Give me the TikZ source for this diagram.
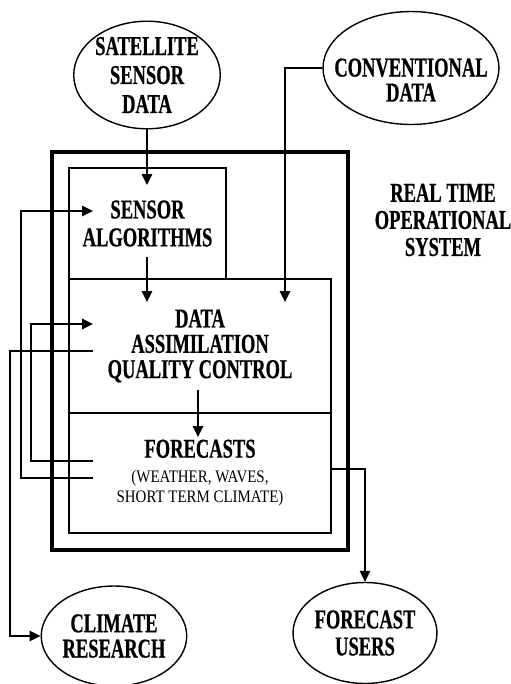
\documentclass[tikz,border=0pt]{standalone}
\usepackage{fontspec}
\usetikzlibrary{shapes.geometric, arrows.meta}

\newfontfamily\headfont[FakeStretch=0.68, BoldFeatures={FakeBold=0.6}]{Liberation Serif}
\newfontfamily\notefont[FakeStretch=0.85]{Liberation Serif}
\newcommand{\hdfont}[1]{\headfont\bfseries\fontsize{15.5}{#1}\selectfont}
\newcommand{\smallnote}{\notefont\mdseries\fontsize{10}{11.4}\selectfont}

\begin{document}
\begin{tikzpicture}[x=0.02cm, y=-0.02cm,
    oval/.style={ellipse, draw, line width=0.8pt, inner sep=0pt, align=center},
    blk/.style={rectangle, draw, line width=1.1pt, inner sep=0pt, align=center},
    txt/.style={inner sep=0pt, align=center},
    flow/.style={line width=0.6pt, -{Triangle[length=2.2mm, width=2.1mm]}},
    link/.style={line width=0.6pt}]

    \useasboundingbox (0,0) rectangle (511,684);

    % Draw the input ovals
    \node[oval, minimum width=2.86cm, minimum height=1.88cm, font=\hdfont{16.5}] (sat) at (147,75) {SATELLITE\\SENSOR\\DATA};
    \node[oval, minimum width=3.52cm, minimum height=2.26cm] (conv) at (411,68) {};
    \node[txt, font=\hdfont{14.2}] (convtxt) at (411,80) {CONVENTIONAL\\DATA};

    % Draw the operational system
    \node[draw, line width=2.3pt, minimum width=5.92cm, minimum height=7.96cm] (rtos) at (200,351) {};
    \node[blk, minimum width=3.14cm, minimum height=2.22cm, font=\hdfont{15.9}] (sens) at (147.5,223.5) {SENSOR\\ALGORITHMS};
    \node[blk, minimum width=5.24cm, minimum height=2.68cm, font=\hdfont{14.4}] (da) at (200,346) {DATA\\ASSIMILATION\\QUALITY CONTROL};
    \node[blk, minimum width=5.24cm, minimum height=2.4cm, font=\hdfont{15.6}] (fc) at (200,473) {FORECASTS\\[-1.4pt]\smallnote (WEATHER, WAVES,\\[-4.2pt]\smallnote SHORT TERM CLIMATE)};
    \node[txt, font=\hdfont{15.4}] (rtlabel) at (443,220) {REAL TIME\\OPERATIONAL\\SYSTEM};

    % Draw the output ovals
    \node[oval, minimum width=2.9cm, minimum height=2cm, font=\hdfont{14.4}] (clim) at (114,636) {CLIMATE\\RESEARCH};
    \node[oval, minimum width=2.88cm, minimum height=2.02cm, font=\hdfont{15.4}] (users) at (365,633) {FORECAST\\USERS};

    % Ports inside the boxes
    \coordinate (sensin) at (147,185);
    \coordinate (sensout) at (147,257);
    \coordinate (sensfb) at (93,211);
    \coordinate (dain) at (147,302);
    \coordinate (daconv) at (285,302);
    \coordinate (dafb) at (93,324);
    \coordinate (daout) at (198,390);
    \coordinate (daclim) at (93,351);
    \coordinate (fcin) at (198,437);
    \coordinate (fcback) at (93,461);
    \coordinate (fcsens) at (93,478);
    \coordinate (fcout) at (331,469);

    % Draw the connectors
    \draw[flow] (sat.south) -- (sensin);
    \draw[flow] (conv.west) -| (daconv);
    \draw[flow] (sensout) -- (dain);
    \draw[flow] (daout) -- (fcin);
    \draw[flow] (daclim) -- ++(-83,0) |- (clim.west);
    \draw[flow] (fcsens) -- ++(-72,0) |- (sensfb);
    \draw[flow] (fcback) -- ++(-62,0) |- (dafb);
    \draw[flow] (fcout) -| (users.north);

\end{tikzpicture}
\end{document}
